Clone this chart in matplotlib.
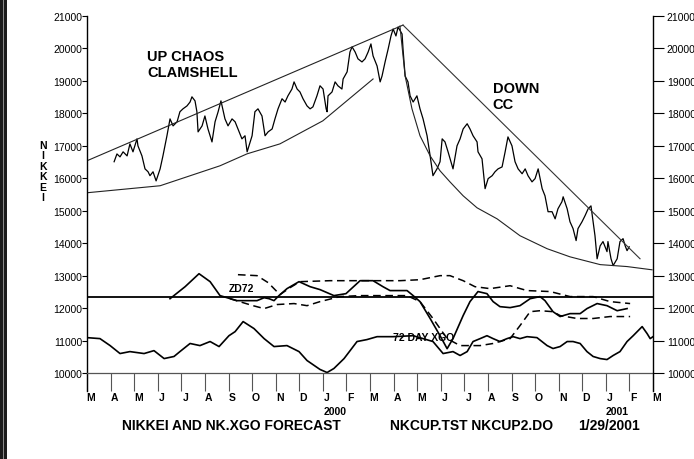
import matplotlib.pyplot as plt
import matplotlib.transforms as mtransforms
from matplotlib.patches import Rectangle

plt.rcParams['font.family'] = ['Liberation Sans', 'DejaVu Sans']

# time axis: months since 1 March 1999
month_labels = ["M", "A", "M", "J", "J", "A", "S", "O", "N", "D", "J", "F",
                "M", "A", "M", "J", "J", "A", "S", "O", "N", "D", "J", "F", "M"]
year_labels = ["2000", "2001"]
year_months = [10, 22]
y_ticks = list(range(10000, 21001, 1000))

# Nikkei close
nk_month = [1.15, 1.27, 1.40, 1.53, 1.70, 1.82, 1.95, 2.12, 2.16, 2.33, 2.46, 2.59, 2.67, 2.80,
            2.93, 3.10, 3.22, 3.39, 3.52, 3.65, 3.82, 3.94, 4.07, 4.24, 4.37, 4.45, 4.58, 4.66,
            4.71, 4.88, 5.00, 5.13, 5.30, 5.43, 5.56, 5.68, 5.85, 5.98, 6.15, 6.28, 6.40, 6.57,
            6.70, 6.79, 7.00, 7.12, 7.25, 7.42, 7.55, 7.68, 7.85, 7.97, 8.10, 8.27, 8.40, 8.52,
            8.69, 8.78, 8.91, 9.03, 9.16, 9.33, 9.46, 9.58, 9.75, 9.88, 10.01, 10.14, 10.18,
            10.22, 10.39, 10.52, 10.64, 10.81, 10.86, 11.03, 11.15, 11.24, 11.37, 11.49, 11.66,
            11.79, 11.92, 12.04, 12.13, 12.30, 12.43, 12.51, 12.64, 12.77, 12.89, 12.98, 13.10,
            13.19, 13.36, 13.40, 13.49, 13.61, 13.70, 13.83, 13.99, 14.12, 14.25, 14.42, 14.55,
            14.67, 14.84, 14.97, 15.06, 15.18, 15.31, 15.48, 15.52, 15.69, 15.82, 15.95, 16.12,
            16.24, 16.37, 16.54, 16.58, 16.75, 16.88, 17.01, 17.18, 17.30, 17.43, 17.60, 17.73,
            17.85, 18.02, 18.15, 18.28, 18.45, 18.58, 18.70, 18.87, 19.00, 19.13, 19.30, 19.42,
            19.55, 19.72, 19.85, 19.97, 20.14, 20.19, 20.36, 20.48, 20.61, 20.74, 20.82, 20.99,
            21.12, 21.25, 21.37, 21.46, 21.54, 21.63, 21.76, 21.88, 22.05, 22.09, 22.22, 22.31,
            22.48, 22.60, 22.73, 22.82, 22.90, 22.99]
nk_close = [16510, 16750, 16660, 16815, 16690, 17060, 16815, 17215, 17000, 16690, 16290, 16200,
            16080, 16200, 15920, 16290, 16690, 17310, 17830, 17615, 17740, 18050, 18140, 18230,
            18350, 18510, 18385, 18050, 17430, 17615, 17920, 17520, 17120, 17740, 18050, 18385,
            17830, 17615, 17830, 17740, 17520, 17215, 17310, 16815, 17310, 18050, 18140, 17920,
            17310, 17430, 17520, 17830, 18140, 18450, 18350, 18540, 18750, 18970, 18750, 18660,
            18450, 18230, 18140, 18200, 18540, 18850, 18750, 18140, 18050, 18540, 18660, 18970,
            18850, 18750, 19060, 19280, 19890, 20050, 19890, 19680, 19585, 19680, 19890, 20140,
            19770, 19460, 18970, 19150, 19585, 19985, 20385, 20600, 20385, 20660, 20445, 19985,
            19150, 18970, 18540, 18350, 18540, 18140, 17830, 17310, 16690, 16080, 16290, 16510,
            17215, 17120, 16815, 16385, 16290, 17000, 17215, 17520, 17680, 17520, 17310, 17120,
            16815, 16600, 15680, 15990, 16080, 16200, 16290, 16350, 16815, 17275, 17000, 16510,
            16290, 16140, 16290, 16080, 15890, 15990, 16290, 15680, 15460, 14970, 14970, 14750,
            15060, 15280, 15430, 15060, 14660, 14450, 14080, 14450, 14660, 14850, 15060, 15150,
            14660, 14230, 13520, 13920, 14050, 13740, 14050, 13520, 13310, 13520, 14050, 14140,
            13920, 13770, 13890]

# up chaos clamshell
up_top_month = [0.0, 13.4]
up_top_value = [16540, 20720]
up_low_month = [0.0, 3.10, 5.64, 6.79, 8.18, 10.0, 12.13]
up_low_value = [15554, 15770, 16385, 16754, 17060, 17770, 19060]

# down cc
down_top_month = [13.4, 23.45]
down_top_value = [20720, 13520]
down_low_month = [13.27, 13.49, 13.78, 14.12, 14.55, 14.97, 15.39, 15.95, 16.54, 17.39,
                  18.36, 19.51, 20.48, 21.76, 22.90, 23.96]
down_low_value = [20690, 19150, 18140, 17310, 16690, 16230, 15890, 15460, 15090, 14750,
                  14230, 13830, 13580, 13340, 13280, 13180]

zero_level = 12350

# ZD72 oscillator
zd_month = [3.52, 4.16, 4.75, 5.22, 5.64, 6.36, 7.21, 7.51, 7.72, 7.93, 8.14, 8.48, 8.99, 9.46,
            9.88, 10.47, 10.98, 11.58, 12.13, 12.55, 12.85, 13.57, 13.83, 14.12, 14.55, 14.97,
            15.27, 15.52, 15.95, 16.24, 16.58, 16.96, 17.22, 17.51, 17.94, 18.36, 18.79, 19.21,
            19.42, 19.76, 20.06, 20.48, 20.91, 21.20, 21.63, 22.05, 22.48, 22.90]
zd_value = [12290, 12660, 13060, 12815, 12385, 12230, 12230, 12320, 12290, 12230, 12385, 12600,
            12815, 12660, 12570, 12385, 12445, 12845, 12845, 12660, 12540, 12540, 12385, 12200,
            11680, 11150, 10750, 11060, 11770, 12200, 12510, 12445, 12200, 12045, 12015, 12075,
            12290, 12355, 12230, 11890, 11740, 11830, 11830, 11985, 12140, 12075, 11920, 11985]

# forecast bands (dashed)
band_hi_month = [6.40, 7.21, 7.68, 8.18, 8.61, 9.03, 10.31, 11.58, 13.27, 14.12, 14.97, 15.39,
                 15.95, 16.45, 17.09, 17.94, 18.66, 19.64, 20.48, 21.46, 22.18, 23.03]
band_hi_value = [13030, 13000, 12785, 12415, 12630, 12815, 12845, 12845, 12845, 12875, 13000,
                 13000, 12845, 12660, 12600, 12690, 12540, 12510, 12355, 12355, 12200, 12140]
band_lo_month = [6.06, 7.04, 7.51, 8.06, 8.78, 9.33, 9.88, 10.73, 11.58, 12.72, 13.57, 14.12,
                 14.67, 15.27, 15.82, 16.67, 17.22, 17.94, 18.36, 18.79, 19.21, 19.76, 20.06,
                 20.78, 21.46, 22.18, 23.03]
band_lo_value = [12290, 12075, 11985, 12110, 12140, 12075, 12200, 12355, 12385, 12385, 12385,
                 12200, 11680, 11060, 10845, 10845, 10910, 11060, 11460, 11890, 11920, 11890,
                 11770, 11680, 11680, 11740, 11740]

# 72 day XGO
xgo_month = [0.0, 0.55, 0.98, 1.40, 1.82, 2.42, 2.84, 3.27, 3.69, 3.94, 4.37, 4.79, 5.22, 5.60,
             6.02, 6.28, 6.62, 7.08, 7.51, 7.93, 8.48, 8.99, 9.33, 9.88, 10.18, 10.47, 10.90,
             11.45, 11.87, 12.30, 12.98, 13.83, 14.67, 15.10, 15.52, 15.82, 16.12, 16.37, 16.67,
             16.96, 17.22, 17.51, 17.81, 18.07, 18.36, 18.66, 19.08, 19.51, 19.76, 20.06, 20.36,
             20.61, 20.91, 21.20, 21.46, 21.76, 22.05, 22.31, 22.60, 22.90, 23.16, 23.54, 23.75,
             23.88, 24.0]
xgo_value = [11090, 11060, 10845, 10600, 10660, 10600, 10690, 10445, 10510, 10660, 10910, 10845,
             10970, 10815, 11150, 11275, 11585, 11370, 11060, 10815, 10845, 10660, 10385, 10110,
             10015, 10140, 10445, 10970, 11030, 11120, 11120, 11150, 10970, 10600, 10660, 10540,
             10660, 10970, 11060, 11150, 11060, 10970, 11060, 11120, 11060, 11120, 11090, 10845,
             10755, 10815, 10970, 10970, 10910, 10660, 10510, 10445, 10415, 10540, 10660, 10970,
             11150, 11430, 11215, 11060, 11120]

W, H = 694, 460
fig = plt.figure(figsize=(W / 100, H / 100), dpi=100)
ax = fig.add_axes([87 / W, 1 - 392 / H, (653 - 87) / W, (392 - 17) / H])

ax.plot(nk_month, nk_close, color="black", lw=0.9)
ax.plot(up_top_month, up_top_value, color="#222222", lw=0.8)
ax.plot(up_low_month, up_low_value, color="#222222", lw=0.8)
ax.plot(down_top_month, down_top_value, color="#333333", lw=0.8)
ax.plot(down_low_month, down_low_value, color="#222222", lw=0.8)

ax.axhline(zero_level, color="black", lw=1.3)
ax.plot(zd_month, zd_value, color="black", lw=1.2)
ax.plot(band_hi_month, band_hi_value, color="black", lw=1.1, dashes=(5, 3))
ax.plot(band_lo_month, band_lo_value, color="black", lw=1.1, dashes=(5, 3))
ax.plot(xgo_month, xgo_value, color="black", lw=1.2)

ax.set_xlim(0, 24)
ax.set_ylim(9446, 21000)
ax.spines["top"].set_visible(False)
ax.spines["bottom"].set_position(("data", 10000))
ax.spines["bottom"].set_color("#555555")
ax.spines["bottom"].set_linewidth(0.9)
ax.spines["left"].set_linewidth(1.0)
ax.spines["right"].set_visible(False)

ax.set_xticks(range(len(month_labels)))
ax.set_xticklabels(month_labels, fontsize=7.5, fontweight="bold")
ax.tick_params(axis="x", direction="out", length=13, width=0.8, color="#555555", pad=1)
shift = mtransforms.ScaledTranslation(4 / 100, 0, fig.dpi_scale_trans)
for lab in ax.get_xticklabels():
    lab.set_transform(lab.get_transform() + shift)

ax.set_yticks(y_ticks)
ax.set_yticklabels([str(v) for v in y_ticks], fontsize=7.5)
ax.tick_params(axis="y", direction="out", length=3.5, width=0.8, pad=0)

ax2 = ax.twinx()
ax2.set_ylim(ax.get_ylim())
for side in ["top", "left", "bottom"]:
    ax2.spines[side].set_visible(False)
ax2.spines["right"].set_linewidth(1.0)
ax2.set_yticks(y_ticks)
ax2.set_yticklabels([str(v) for v in y_ticks], fontsize=7.5)
ax2.tick_params(axis="y", direction="out", length=8, width=0.8, pad=2)

# annotations
ax.text(2.56, 19970, "UP CHAOS\nCLAMSHELL", fontsize=10.5, fontweight="bold",
        va="top", ha="left", linespacing=1.15)
ax.text(17.2, 19000, "DOWN\nCC", fontsize=10.5, fontweight="bold",
        va="top", ha="left", linespacing=1.15)
ax.text(6.02, 12620, "ZD72", fontsize=7.5, fontweight="bold", va="center", ha="left")
ax.text(12.98, 11120, "72 DAY XGO", fontsize=7.5, fontweight="bold", va="center", ha="left")
fig.text(43 / W, 1 - 172 / H, "N\nI\nK\nK\nE\nI", fontsize=7.5, fontweight="bold",
         ha="center", va="center", linespacing=1.05)

year_tr = mtransforms.blended_transform_factory(ax.transData, fig.transFigure)
for m, lab in zip(year_months, year_labels):
    ax.text(m + 0.5, 1 - 412 / H, lab, transform=year_tr, fontsize=7.5,
            fontweight="bold", ha="center", va="center")

fig.text(122 / W, 1 - 426 / H, "NIKKEI AND NK.XGO FORECAST", fontsize=10,
         fontweight="bold", ha="left", va="center")
fig.text(390 / W, 1 - 426 / H, "NKCUP.TST NKCUP2.DO", fontsize=10,
         fontweight="bold", ha="left", va="center")
fig.text(578 / W, 1 - 426 / H, "1/29/2001", fontsize=10,
         fontweight="bold", ha="left", va="center")

# dark scanner border on the left edge
fig.patches.append(Rectangle((0, 0), 7 / W, 1, transform=fig.transFigure,
                             facecolor="#1c1c1c", edgecolor="none"))
fig.patches.append(Rectangle((2.5 / W, 0), 1 / W, 1, transform=fig.transFigure,
                             facecolor="#8a8a8a", edgecolor="none"))

fig.savefig("out.png", dpi=100)
